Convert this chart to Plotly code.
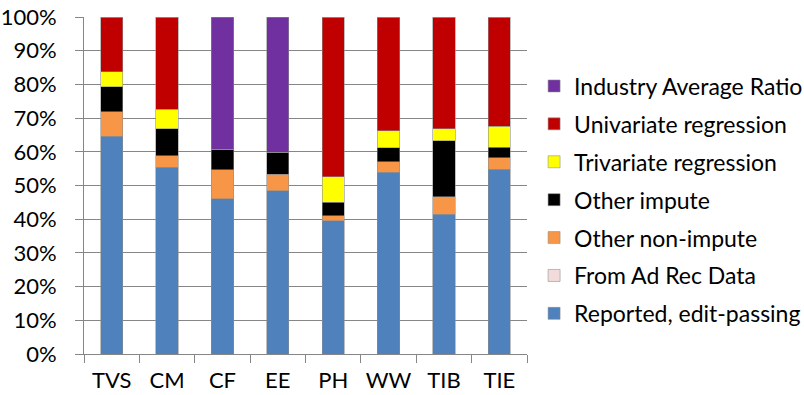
import plotly.graph_objects as go

categories = ["TVS", "CM", "CF", "EE", "PH", "WW", "TIB", "TIE"]

reported = [64.6, 55.4, 46.0, 48.4, 39.6, 54.0, 41.4, 54.8]
ad_rec = [0, 0, 0, 0, 0, 0, 0, 0]
other_non_impute = [7.3, 3.5, 8.7, 4.9, 1.4, 3.1, 5.3, 3.5]
other_impute = [7.4, 7.9, 6.1, 6.5, 4.0, 4.1, 16.6, 3.1]
trivariate = [4.5, 5.9, 0, 0, 7.6, 5.1, 3.6, 6.2]
univariate = [16.2, 27.3, 0, 0, 47.4, 33.7, 33.1, 32.4]
industry_avg = [0, 0, 39.2, 40.2, 0, 0, 0, 0]

# stacking order bottom -> top
series = [
    ("Reported, edit-passing", reported, "#4F81BD"),
    ("From Ad Rec Data", ad_rec, "#F2DCDB"),
    ("Other non-impute", other_non_impute, "#F79646"),
    ("Other impute", other_impute, "#000000"),
    ("Trivariate regression", trivariate, "#FFFF00"),
    ("Univariate regression", univariate, "#C00000"),
    ("Industry Average Ratio", industry_avg, "#7030A0"),
]

fig = go.Figure()
n = len(series)
for i, (name, vals, color) in enumerate(series):
    fig.add_trace(go.Bar(
        x=categories, y=vals, name=name, legendgroup=name,
        legendrank=n - i,
        marker=dict(color=color, line=dict(color="rgba(140,140,140,0.7)", width=0.8)),
    ))

font = "Lato, Calibri, Carlito, sans-serif"
fig.update_layout(
    barmode="stack",
    bargap=0.6,
    width=804, height=395,
    margin=dict(l=84, r=277, t=17, b=41, autoexpand=False),
    plot_bgcolor="white", paper_bgcolor="white",
    font=dict(family=font, size=22, color="#000000"),
    showlegend=True,
    legend=dict(
        traceorder="grouped", tracegroupgap=5,
        x=1.016, xanchor="left", y=0.859, yanchor="top",
        font=dict(family=font, size=23, color="#000000"),
        itemwidth=30,
    ),
    xaxis=dict(
        showline=True, linecolor="#868686", linewidth=1,
        ticks="outside", tickson="boundaries", ticklen=8, tickcolor="#868686",
        tickfont=dict(size=22), showgrid=False, automargin=False,
        ticklabelstandoff=7,
    ),
    yaxis=dict(
        range=[0, 100], dtick=10, ticksuffix="%",
        showline=True, linecolor="#868686", linewidth=1,
        ticks="outside", ticklen=8, tickcolor="#868686",
        showgrid=True, gridcolor="#868686", gridwidth=1,
        tickfont=dict(size=22), zeroline=False, automargin=False,
        ticklabelstandoff=14,
    ),
)

fig.write_html("out.html")
